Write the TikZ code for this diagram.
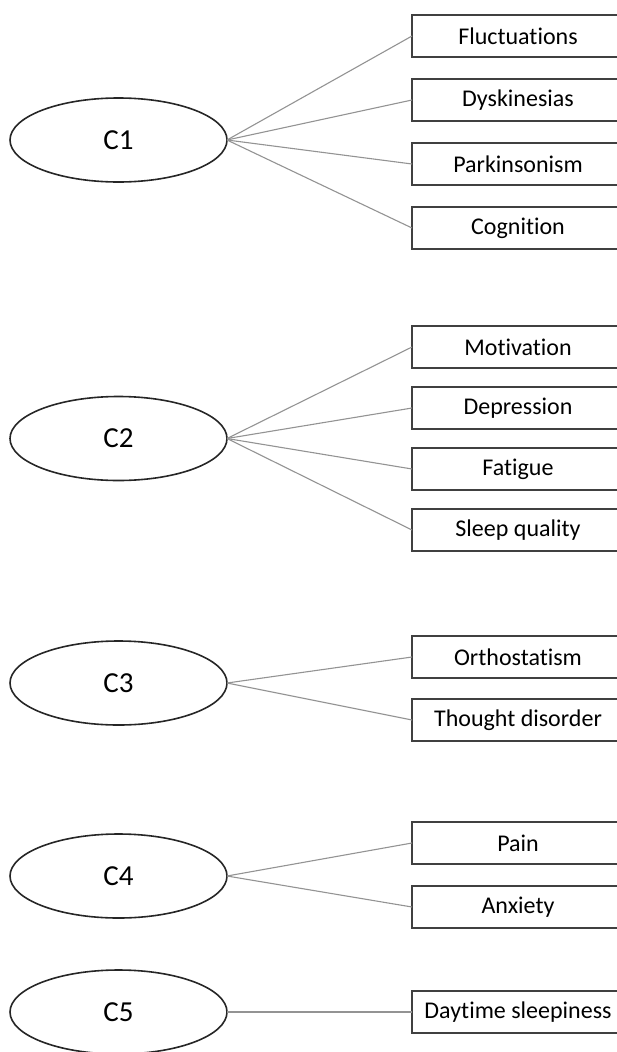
\documentclass[tikz,border=0pt]{standalone}
\usepackage{fontspec}
\setmainfont{Carlito}[Ligatures={NoCommon}]
\usepackage{tikz}
\usetikzlibrary{positioning,shapes.geometric}

\begin{document}
\begin{tikzpicture}[
    x=1pt, y=-1pt,
    cluster/.style={ellipse, draw=black!85, line width=1.6pt, minimum width=217pt, minimum height=84pt, inner sep=0pt, outer sep=0pt, font=\fontsize{29}{34}\selectfont},
    item/.style={rectangle, draw=black!75, line width=1.6pt, minimum width=212pt, minimum height=42pt, inner sep=0pt, outer sep=0pt, font=\fontsize{24}{28}\selectfont},
    link/.style={line width=1.1pt, color=gray!85}
]
\useasboundingbox (0,0) rectangle (616,1052);

% clusters
\node[cluster] (c1) at (118.5,140) {C1};
\node[cluster] (c2) at (118.5,438.5) {C2};
\node[cluster] (c3) at (118.5,683) {C3};
\node[cluster] (c4) at (118.5,876) {C4};
\node[cluster] (c5) at (118.5,1012) {C5};

% C1 items
\node[item] (fluct) at (518,36) {Fluctuations};
\node[item, below=22pt of fluct] (dysk) {Dyskinesias};
\node[item, below=22pt of dysk] (parkin) {Parkinsonism};
\node[item, below=22pt of parkin] (cogn) {Cognition};

% C2 items
\node[item] (motiv) at (518,347) {Motivation};
\node[item, below=19pt of motiv] (depress) {Depression};
\node[item, below=19pt of depress] (fatigue) {Fatigue};
\node[item, below=19pt of fatigue] (sleep) {Sleep quality};

% C3 items
\node[item] (ortho) at (518,657) {Orthostatism};
\node[item, below=21pt of ortho] (thought) {Thought disorder};

% C4 items
\node[item] (pain) at (518,843) {Pain};
\node[item, below=22pt of pain] (anxiety) {Anxiety};

% C5 item
\node[item] (daytime) at (518,1012) {Daytime sleepiness};

\draw[link] (c1.east) -- (fluct.west);
\draw[link] (c1.east) -- (dysk.west);
\draw[link] (c1.east) -- (parkin.west);
\draw[link] (c1.east) -- (cogn.west);

\draw[link] (c2.east) -- (motiv.west);
\draw[link] (c2.east) -- (depress.west);
\draw[link] (c2.east) -- (fatigue.west);
\draw[link] (c2.east) -- (sleep.west);

\draw[link] (c3.east) -- (ortho.west);
\draw[link] (c3.east) -- (thought.west);

\draw[link] (c4.east) -- (pain.west);
\draw[link] (c4.east) -- (anxiety.west);

\draw[link] (c5.east) -- (daytime.west);

\end{tikzpicture}
\end{document}
